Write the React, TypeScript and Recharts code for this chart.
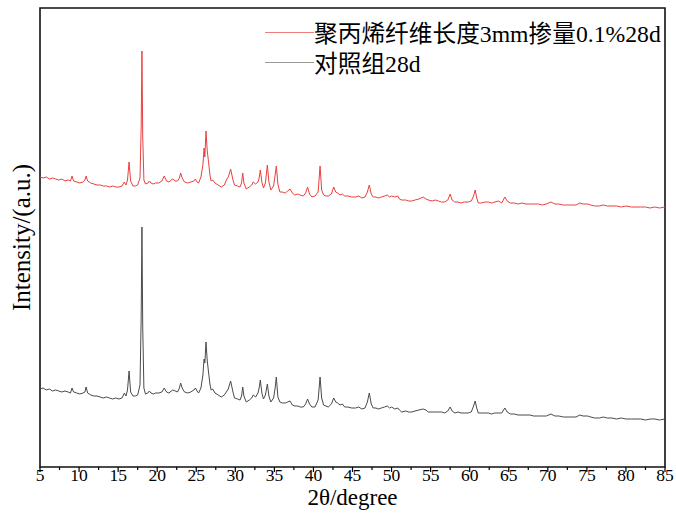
import { LineChart, Line, XAxis, YAxis, ReferenceArea } from 'recharts';

// 2θ positions (degree) and intensities (a.u.)
const twoTheta = [
  5.0, 5.4, 5.8, 6.2, 6.6, 7.0, 7.4, 7.8, 8.2, 8.6,
  8.9, 9.1, 9.3, 9.7, 10.1, 10.5, 10.75, 10.9, 11.1, 11.5,
  11.9, 12.3, 12.7, 13.1, 13.5, 13.9, 14.3, 14.7, 15.1, 15.5,
  15.8, 16.0, 16.2, 16.4, 16.6, 16.9, 17.2, 17.5, 17.8, 17.95,
  18.05, 18.15, 18.3, 18.5, 18.8, 19.0, 19.2, 19.5, 19.8, 20.2,
  20.6, 20.9, 21.2, 21.5, 21.8, 22.0, 22.3, 22.6, 22.85, 23.0,
  23.2, 23.5, 23.9, 24.3, 24.7, 24.9, 25.1, 25.3, 25.6, 25.85,
  26.0, 26.1, 26.25, 26.4, 26.6, 26.75, 26.9, 27.1, 27.4, 27.8,
  28.2, 28.6, 28.85, 29.1, 29.4, 29.7, 29.9, 30.3, 30.6, 30.8,
  30.95, 31.1, 31.4, 31.8, 32.1, 32.3, 32.6, 32.9, 33.05, 33.2,
  33.4, 33.6, 33.85, 34.1, 34.3, 34.55, 34.9, 35.1, 35.25, 35.45,
  35.7, 36.0, 36.4, 36.7, 37.0, 37.3, 37.6, 38.0, 38.3, 38.7,
  39.0, 39.25, 39.5, 39.8, 40.2, 40.6, 40.85, 41.05, 41.3, 41.6,
  41.9, 42.3, 42.6, 42.85, 43.1, 43.4, 43.7, 44.0, 44.4, 44.9,
  45.4, 45.8, 46.2, 46.6, 46.9, 47.15, 47.4, 47.65, 48.0, 48.3,
  48.7, 49.1, 49.45, 49.75, 50.0, 50.4, 50.8, 51.0, 51.3, 51.8,
  52.2, 52.6, 53.0, 53.5, 54.05, 54.4, 54.7, 55.2, 55.6, 56.0,
  56.4, 56.8, 57.2, 57.5, 57.75, 58.1, 58.5, 58.9, 59.3, 59.8,
  60.2, 60.5, 60.7, 60.9, 61.1, 61.5, 62.0, 62.4, 62.8, 63.2,
  63.7, 64.1, 64.5, 64.8, 65.2, 65.7, 66.2, 66.7, 67.2, 67.7,
  68.2, 68.8, 69.3, 69.8, 70.4, 70.9, 71.4, 72.0, 72.6, 73.1,
  73.6, 74.1, 74.5, 75.1, 75.5, 76.0, 76.6, 77.1, 77.6, 78.2,
  78.8, 79.4, 80.0, 80.7, 81.3, 81.9, 82.5, 83.1, 83.7, 84.3, 85.0,
];

// 聚丙烯纤维长度3mm掺量0.1%28d (offset upward in the plot)
const fiberIntensity = [
  290, 289, 290, 288, 289, 288, 287, 288, 286, 287,
  286, 291, 286, 285, 284, 285, 287, 291, 286, 284,
  283, 282, 282, 281, 281, 280, 281, 280, 280, 281,
  285, 282, 287, 305, 286, 281, 281, 282, 289, 340,
  416, 330, 287, 283, 284, 286, 284, 283, 284, 284,
  286, 291, 286, 285, 287, 288, 286, 286, 289, 294,
  289, 285, 284, 285, 286, 288, 285, 284, 290, 302,
  319, 310, 336, 317, 303, 292, 286, 287, 284, 282,
  280, 282, 287, 290, 298, 287, 282, 281, 280, 284,
  294, 284, 278, 280, 282, 285, 283, 285, 289, 297,
  285, 279, 284, 302, 285, 277, 281, 292, 301, 283,
  275, 275, 274, 276, 278, 274, 272, 273, 272, 271,
  274, 280, 273, 270, 271, 275, 301, 277, 272, 271,
  271, 273, 280, 275, 274, 272, 273, 271, 271, 270,
  270, 271, 269, 270, 275, 282, 273, 270, 270, 269,
  270, 271, 272, 270, 271, 270, 271, 268, 267, 267,
  266, 266, 267, 268, 270, 268, 267, 266, 267, 266,
  265, 265, 267, 273, 267, 265, 265, 264, 265, 265,
  266, 271, 277, 269, 264, 264, 265, 265, 264, 265,
  266, 264, 270, 266, 264, 264, 263, 264, 263, 263,
  263, 263, 262, 263, 265, 263, 263, 262, 262, 262,
  262, 264, 263, 263, 262, 261, 261, 262, 261, 261,
  261, 260, 261, 260, 260, 260, 260, 259, 260, 259, 260,
];

// 对照组28d
const controlIntensity = [
  78, 79, 77, 78, 76, 77, 76, 75, 76, 75,
  74, 79, 75, 74, 73, 74, 75, 80, 74, 72,
  71, 71, 70, 69, 70, 69, 68, 69, 68, 69,
  74, 71, 77, 96, 75, 71, 71, 72, 82, 150,
  240, 140, 79, 73, 74, 76, 74, 73, 74, 74,
  75, 79, 75, 74, 76, 77, 76, 75, 79, 84,
  79, 75, 74, 75, 77, 79, 76, 74, 79, 92,
  108, 104, 125, 107, 93, 83, 77, 78, 74, 72,
  70, 72, 75, 78, 86, 75, 69, 68, 67, 71,
  80, 71, 65, 67, 69, 72, 70, 74, 79, 87,
  74, 68, 72, 83, 71, 65, 69, 79, 90, 70,
  65, 64, 64, 65, 66, 62, 61, 61, 60, 60,
  63, 68, 63, 60, 60, 67, 90, 69, 62, 61,
  60, 63, 69, 65, 64, 62, 63, 60, 60, 59,
  59, 60, 58, 59, 65, 74, 63, 59, 59, 58,
  59, 60, 61, 59, 60, 58, 59, 57, 55, 56,
  55, 55, 56, 57, 58, 57, 55, 55, 55, 55,
  55, 54, 56, 60, 56, 54, 55, 54, 54, 54,
  55, 61, 66, 59, 54, 54, 54, 54, 53, 54,
  54, 54, 59, 55, 53, 53, 52, 52, 52, 52,
  51, 51, 51, 51, 53, 51, 51, 50, 50, 50,
  50, 52, 51, 51, 50, 49, 49, 50, 49, 49,
  48, 49, 48, 48, 48, 48, 47, 48, 48, 47, 48,
];

const xTicks = [5, 7.5, 10, 12.5, 15, 17.5, 20, 22.5, 25, 27.5, 30, 32.5, 35, 37.5, 40, 42.5, 45,
  47.5, 50, 52.5, 55, 57.5, 60, 62.5, 65, 67.5, 70, 72.5, 75, 77.5, 80, 82.5, 85];

const legendItems = [
  { label: '聚丙烯纤维长度3mm掺量0.1%28d', color: '#f07c7c' },
  { label: '对照组28d', color: '#9a9a9a' },
];

const data = twoTheta.map((t, i) => ({ t, fiber: fiberIntensity[i], control: controlIntensity[i] }));

const serif = "'Liberation Serif', 'Times New Roman', serif";

function XTick({ x, y, payload }: any) {
  const major = payload.value % 5 === 0;
  return (
    <g>
      <line x1={x} x2={x} y1={y} y2={y + (major ? 5 : 3)} stroke="#000" strokeWidth={1.2} />
      {major && (
        <text x={x} y={y + 14} textAnchor="middle" fontSize={17.5} fontFamily={serif} fill="#000">
          {payload.value}
        </text>
      )}
    </g>
  );
}

export default function App() {
  return (
    <div style={{ position: 'absolute', left: 0, top: 0, width: 676, height: 514, background: '#fff' }}>
      <LineChart width={676} height={514} data={data} margin={{ top: 8, right: 11, bottom: 0, left: 0 }}>
        <XAxis
          dataKey="t"
          type="number"
          domain={[5, 85]}
          ticks={xTicks}
          interval={0}
          height={47}
          axisLine={false}
          tickLine={false}
          tickSize={0}
          tickMargin={0}
          tick={<XTick />}
          label={{ value: '2θ/degree', position: 'insideBottom', offset: 9, fontSize: 23, fontFamily: serif, fill: '#000' }}
        />
        <YAxis
          type="number"
          domain={[0, 459]}
          width={40}
          tick={false}
          axisLine={false}
          tickLine={false}
          label={{
            value: 'Intensity/(a.u.)',
            angle: -90,
            position: 'insideLeft',
            offset: 21,
            fontSize: 25,
            fontFamily: serif,
            fill: '#000',
            style: { textAnchor: 'middle' },
          }}
        />
        <ReferenceArea x1={5} x2={85} y1={0} y2={459} fill="none" stroke="#111" strokeWidth={1.6} />
        <Line type="linear" dataKey="fiber" stroke="#e8413f" strokeWidth={1} dot={false} isAnimationActive={false} />
        <Line type="linear" dataKey="control" stroke="#4a4a4a" strokeWidth={1} dot={false} isAnimationActive={false} />
      </LineChart>
      <div style={{ position: 'absolute', left: 265, top: 17, fontFamily: "'Liberation Serif', 'Noto Sans CJK SC', serif", fontSize: 23.7 }}>
        {legendItems.map((item) => (
          <div key={item.label} style={{ display: 'flex', alignItems: 'center', height: 30, whiteSpace: 'nowrap' }}>
            <span style={{ display: 'inline-block', width: 49, borderTop: `1px solid ${item.color}` }} />
            <span style={{ color: '#000' }}>{item.label}</span>
          </div>
        ))}
      </div>
    </div>
  );
}
